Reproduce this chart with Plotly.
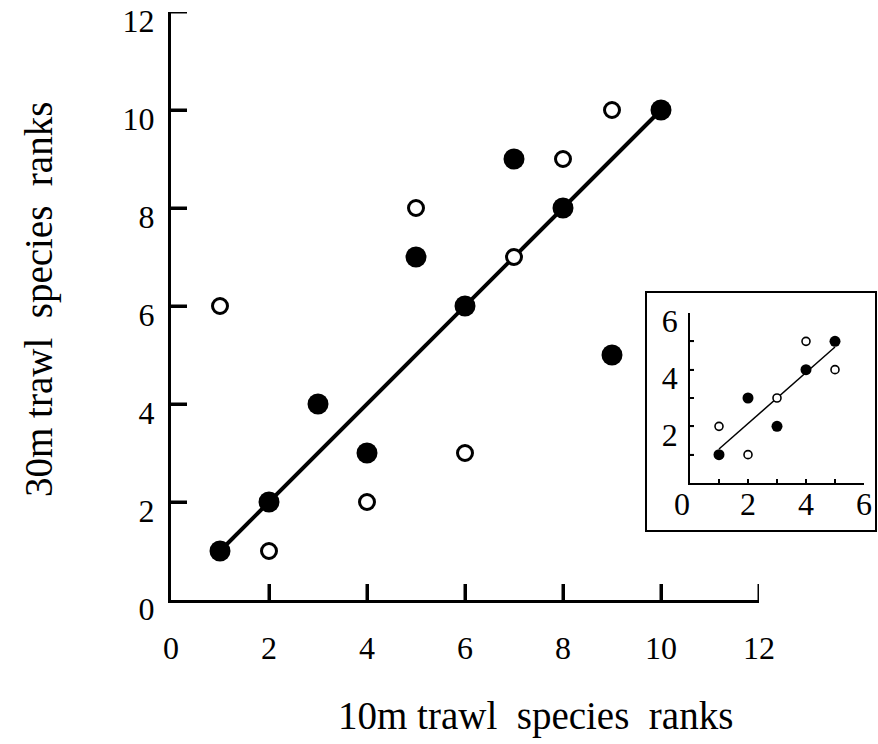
import numpy as np
import plotly.graph_objects as go

# Main panel: species ranks from the two trawl depths
ranks_x = [1, 2, 3, 4, 5, 6, 7, 8, 9, 10]
filled_y = [1, 2, 4, 3, 7, 6, 9, 8, 5, 10]
open_x = [1, 2, 4, 5, 6, 7, 8, 9]
open_y = [6, 1, 2, 8, 3, 7, 9, 10]
line_x = [1, 10]
line_y = [1, 10]
main_ticks = [0, 2, 4, 6, 8, 10, 12]

# Inset panel
inset_x = [1, 2, 3, 4, 5]
inset_filled_y = [1, 3, 2, 4, 5]
inset_open_y = [2, 1, 3, 5, 4]
inset_xticks = [0, 1, 2, 3, 4, 5, 6]
inset_xtext = ["0\u00a0\u00a0", "", "2", "", "4", "", "6"]
inset_yticks = [1, 2, 3, 4, 5, 6]
inset_ytext = ["", "2", "", "4", "", "6"]
inset_marks = [1, 2, 3, 4, 5]

FONT = "Liberation Serif, Times New Roman, serif"
W, H = 878, 744

slope, intercept = np.polyfit(inset_x, inset_filled_y, 1)
fit_x = np.array([min(inset_x), max(inset_x)])
fit_y = slope * fit_x + intercept

fig = go.Figure()

fig.add_trace(go.Scatter(x=line_x, y=line_y, mode="lines",
                         line=dict(color="black", width=4), xaxis="x", yaxis="y"))
fig.add_trace(go.Scatter(x=open_x, y=open_y, mode="markers", xaxis="x", yaxis="y",
                         marker=dict(symbol="circle", size=15, color="white",
                                     line=dict(color="black", width=3))))
fig.add_trace(go.Scatter(x=ranks_x, y=filled_y, mode="markers", xaxis="x", yaxis="y",
                         marker=dict(symbol="circle", size=21, color="black",
                                     line=dict(width=0))))

fig.add_trace(go.Scatter(x=fit_x, y=fit_y, mode="lines", xaxis="x2", yaxis="y2",
                         line=dict(color="black", width=1.5)))
fig.add_trace(go.Scatter(x=inset_x, y=inset_open_y, mode="markers", xaxis="x2", yaxis="y2",
                         marker=dict(symbol="circle", size=8, color="white",
                                     line=dict(color="black", width=1.6))))
fig.add_trace(go.Scatter(x=inset_x, y=inset_filled_y, mode="markers", xaxis="x2", yaxis="y2",
                         marker=dict(symbol="circle", size=11, color="black",
                                     line=dict(width=0))))

main_axis = dict(range=[0, 12], tickmode="array", tickvals=main_ticks,
                 ticktext=[str(v) for v in main_ticks],
                 showline=True, linecolor="black", linewidth=3, mirror=False,
                 ticks="inside", ticklen=16, tickwidth=3, tickcolor="black",
                 showgrid=False, zeroline=False, automargin=False,
                 tickfont=dict(family=FONT, size=32, color="black"))
inset_axis = dict(range=[0, 6], tickmode="array", showline=True, linecolor="black",
                  linewidth=1.5, ticks="inside", ticklen=4, tickwidth=1.5,
                  tickcolor="black", showgrid=False, zeroline=False, automargin=False,
                  tickfont=dict(family=FONT, size=32, color="black"))


def tick_marks(xref, yref, xvals, yvals, length, width):
    """Short inward tick strokes sitting on the left and bottom axis lines."""
    marks = []
    for v in xvals:
        marks.append(dict(type="line", xref=xref, yref=yref, x0=v, x1=v,
                          ysizemode="pixel", yanchor=0, y0=0, y1=length,
                          line=dict(color="black", width=width), layer="above"))
    for v in yvals:
        marks.append(dict(type="line", xref=xref, yref=yref, y0=v, y1=v,
                          xsizemode="pixel", xanchor=0, x0=0, x1=length,
                          line=dict(color="black", width=width), layer="above"))
    return marks


shapes = [dict(type="rect", xref="paper", yref="paper",
               x0=646 / W, x1=876 / W, y0=1 - 531 / H, y1=1 - 292 / H,
               line=dict(color="black", width=2), fillcolor="white", layer="below")]
shapes += tick_marks("x", "y", main_ticks[1:], main_ticks[1:], 16, 3)
shapes += tick_marks("x2", "y2", inset_marks, inset_marks, 4, 1.5)

fig.update_layout(
    width=W, height=H,
    margin=dict(l=0, r=0, t=0, b=0, autoexpand=False),
    paper_bgcolor="white", plot_bgcolor="rgba(0,0,0,0)",
    showlegend=False,
    xaxis=dict(main_axis, domain=[171 / W, 759 / W], anchor="y",
               ticklabelstandoff=18),
    yaxis=dict(main_axis, domain=[1 - 600 / H, 1 - 12 / H], anchor="x",
               ticklabelstandoff=7, ticklabelshift=9),
    xaxis2=dict(inset_axis, domain=[690 / W, 864 / W], anchor="y2",
                tickvals=inset_xticks, ticktext=inset_xtext, ticklabelstandoff=-8),
    yaxis2=dict(inset_axis, domain=[1 - 483 / H, 1 - 313 / H], anchor="x2",
                tickvals=inset_yticks, ticktext=inset_ytext,
                ticklabelstandoff=4, ticklabelshift=8),
    shapes=shapes,
    annotations=[
        dict(text="10m trawl \u00a0species \u00a0ranks", xref="paper", yref="paper",
             x=535 / W, y=1 - 716 / H, xanchor="center", yanchor="middle",
             showarrow=False, font=dict(family=FONT, size=39, color="black")),
        dict(text="30m trawl \u00a0species \u00a0ranks", xref="paper", yref="paper",
             x=39 / W, y=1 - 300 / H, xanchor="center", yanchor="middle", textangle=-90,
             showarrow=False, font=dict(family=FONT, size=39, color="black")),
    ],
)

fig.write_html("out.html")
